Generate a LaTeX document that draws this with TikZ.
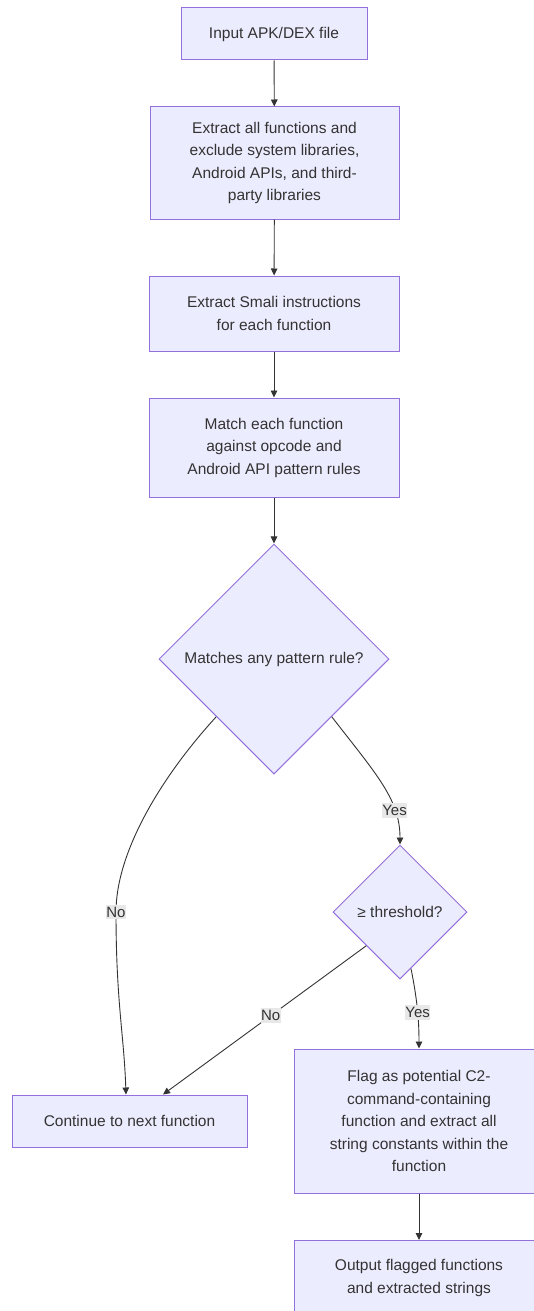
\documentclass[tikz,border=0pt]{standalone}
\usepackage{fontspec}
\setmainfont{Liberation Sans}
\usetikzlibrary{shapes.geometric,arrows.meta}
\definecolor{boxfill}{HTML}{ECECFF}
\definecolor{boxline}{HTML}{9370DB}
\definecolor{ink}{HTML}{333333}
\definecolor{lblbg}{HTML}{E8E8E8}
\tikzset{
  procbox/.style={draw=boxline, fill=boxfill, line width=1pt, inner sep=0pt,
    align=center, text=ink, font=\fontsize{15.5}{22.5}\selectfont},
  decbox/.style={draw=boxline, fill=boxfill, line width=1pt, diamond, aspect=1,
    inner sep=0pt, align=center, text=ink, font=\fontsize{15.5}{22.5}\selectfont},
  edge/.style={draw=ink, line width=0.9pt, -{Triangle[length=7pt,width=6.5pt]}},
  lbl/.style={fill=lblbg, text=ink, inner xsep=0.5pt, inner ysep=2pt,
    font=\fontsize{15}{18}\selectfont}
}
\begin{document}
\begin{tikzpicture}[x=1pt,y=-1pt]
\useasboundingbox (0,0) rectangle (534,1311);
\clip (0,0) rectangle (534,1311);
\fill[white] (0,0) rectangle (534,1311);

\node[procbox, minimum width=186pt, minimum height=52pt] (n1) at (274,34) {Input APK/DEX file};
\node[procbox, minimum width=249pt, minimum height=112pt] (n2) at (274.5,163) {Extract all functions and\\exclude system libraries,\\Android APIs, and third-\\party libraries};
\node[procbox, minimum width=250pt, minimum height=75pt] (n3) at (274,313.5) {Extract Smali instructions\\for each function};
\node[procbox, minimum width=250pt, minimum height=99pt] (n4) at (274,447.5) {Match each function\\against opcode and\\Android API pattern rules};
\node[decbox, minimum width=230pt, minimum height=230pt] (d1) at (274,659) {Matches any pattern rule?};
\node[decbox, minimum width=134pt, minimum height=134pt] (d2) at (400,912) {≥ threshold?};
\node[procbox, minimum width=235pt, minimum height=52pt] (c) at (129.5,1121) {Continue to next function};
\node[procbox, minimum width=250pt, minimum height=144pt] (f) at (419,1121) {Flag as potential C2-\\command-containing\\function and extract all\\string constants within the\\function};
\node[procbox, minimum width=250pt, minimum height=75pt] (o) at (419,1278) {Output flagged functions\\and extracted strings};

\draw[edge] (n1) -- (n2);
\draw[edge] (n2) -- (n3);
\draw[edge] (n3) -- (n4);
\draw[edge] (n4) -- (d1);

\coordinate (nomid) at (116,912);
\draw[edge] (d1.south west) .. controls +(-55,60) and +(0,-60) .. (nomid) node[lbl] {No}
  .. controls +(0,90) and +(-2,-60) .. ([xshift=-3.5pt]c.north);

\draw[edge] (d1.south east) .. controls +(45,58) and +(0,-45) .. (d2.north)
  node[lbl, pos=0.72] {Yes};

\draw[edge] (d2.south west) -- ([xshift=33.5pt]c.north) node[lbl, pos=0.47] {No};

\draw[edge] (d2.-79) .. controls +(6,30) and +(0,-30) .. (f.north) node[lbl, pos=0.55] {Yes};

\draw[edge] (f) -- (o);
\end{tikzpicture}
\end{document}
